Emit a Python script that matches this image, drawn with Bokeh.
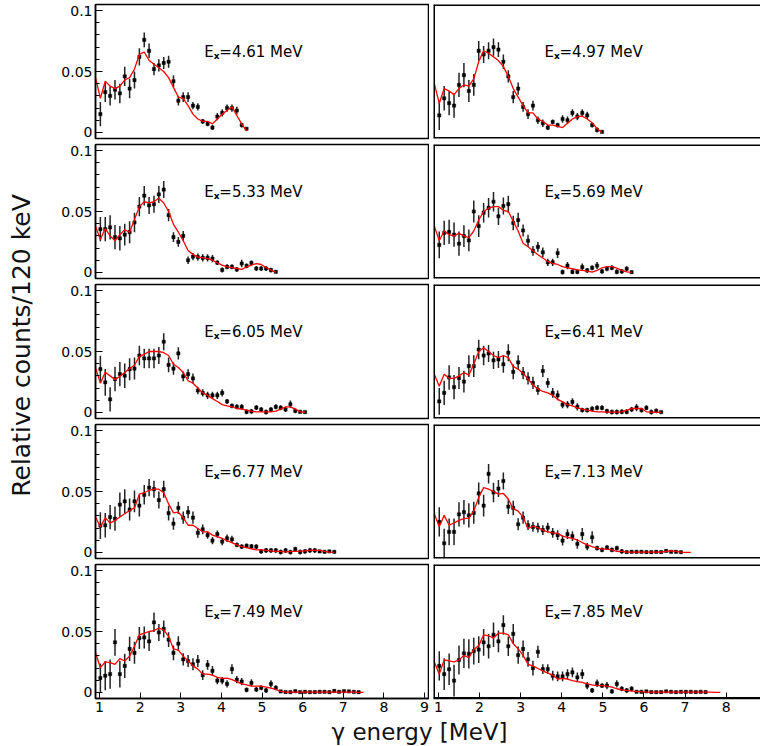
import numpy as np
from bokeh.plotting import figure
from bokeh.models import ColumnDataSource, Label, FixedTicker, CustomJSTickFormatter, Range1d, Span
from bokeh.layouts import row, column
from bokeh.embed import file_html
from bokeh.resources import INLINE

# gamma-energy bin centres (MeV), 120 keV bins
BIN_E = [0.90, 1.02, 1.14, 1.26, 1.38, 1.50, 1.62, 1.74, 1.86, 1.98, 2.10, 2.22, 2.34, 2.46, 2.58,
         2.70, 2.82, 2.94, 3.06, 3.18, 3.30, 3.42, 3.54, 3.66, 3.78, 3.90, 4.02, 4.14, 4.26, 4.38,
         4.50, 4.62, 4.74, 4.86, 4.98, 5.10, 5.22, 5.34, 5.46, 5.58, 5.70, 5.82, 5.94, 6.06, 6.18,
         6.30, 6.42, 6.54, 6.66, 6.78, 6.90, 7.02, 7.14, 7.26, 7.38, 7.50, 7.62, 7.74, 7.86]

EX_LABELS = ["4.61", "4.97", "5.33", "5.69", "6.05", "6.41", "6.77", "7.13", "7.49", "7.85"]

DATA_461 = [0.015, 0.033, 0.030, 0.035, 0.032, 0.046, 0.036, 0.043, 0.062, 0.076, 0.067, 0.052, 0.055, 0.057, 0.058,
            0.042, 0.026, 0.029, 0.029, 0.022, 0.021, 0.009, 0.007, 0.004, 0.013, 0.016, 0.020, 0.020, 0.018, 0.006, 0.003]
ERR_461 = [0.010, 0.008, 0.008, 0.008, 0.008, 0.008, 0.008, 0.007, 0.007, 0.006, 0.006, 0.005, 0.005, 0.005, 0.005,
           0.005, 0.004, 0.004, 0.004, 0.003, 0.003, 0.002, 0.002, 0.002, 0.003, 0.003, 0.003, 0.003, 0.003, 0.002, 0.001]
MODEL_461 = [0.045, 0.028, 0.042, 0.038, 0.036, 0.038, 0.043, 0.045, 0.052, 0.064, 0.066, 0.059, 0.056, 0.053, 0.050,
             0.045, 0.037, 0.029, 0.028, 0.022, 0.015, 0.011, 0.009, 0.009, 0.007, 0.011, 0.015, 0.018, 0.021, 0.014,
             0.007, 0.001]

DATA_497 = [0.014, 0.028, 0.024, 0.022, 0.039, 0.047, 0.034, 0.039, 0.067, 0.064, 0.067, 0.070, 0.068, 0.058, 0.046,
            0.029, 0.036, 0.021, 0.015, 0.022, 0.010, 0.0075, 0.004, 0.0086, 0.006, 0.011, 0.010, 0.016, 0.013, 0.016,
            0.014, 0.006, 0.002, 0.0005]
ERR_497 = [0.012, 0.010, 0.010, 0.010, 0.010, 0.010, 0.009, 0.009, 0.008, 0.007, 0.007, 0.007, 0.006, 0.006, 0.005,
           0.005, 0.005, 0.004, 0.004, 0.004, 0.003, 0.003, 0.002, 0.002, 0.002, 0.003, 0.003, 0.003, 0.003, 0.003,
           0.003, 0.002, 0.002, 0.001]
MODEL_497 = [0.040, 0.024, 0.036, 0.034, 0.031, 0.036, 0.039, 0.038, 0.044, 0.058, 0.067, 0.065, 0.062, 0.059, 0.054,
             0.046, 0.036, 0.029, 0.022, 0.016, 0.016, 0.011, 0.009, 0.006, 0.006, 0.005, 0.004, 0.0075, 0.011, 0.013,
             0.0134, 0.011, 0.008, 0.003, 0.000]

DATA_533 = [0.0355, 0.0355, 0.037, 0.029, 0.028, 0.031, 0.033, 0.041, 0.054, 0.063, 0.055, 0.056, 0.064, 0.068, 0.047,
            0.029, 0.025, 0.030, 0.010, 0.013, 0.0126, 0.012, 0.012, 0.0113, 0.008, 0.002, 0.0046, 0.0046, 0.0024,
            0.0073, 0.0054, 0.0078, 0.0032, 0.0032, 0.0032, 0.0019, 0.0005]
ERR_533 = [0.010, 0.010, 0.010, 0.010, 0.010, 0.009, 0.009, 0.008, 0.008, 0.008, 0.007, 0.007, 0.007, 0.007, 0.005,
           0.004, 0.004, 0.004, 0.003, 0.003, 0.003, 0.003, 0.003, 0.003, 0.002, 0.002, 0.002, 0.002, 0.002, 0.003,
           0.002, 0.002, 0.002, 0.002, 0.002, 0.002, 0.001]
MODEL_533 = [0.038, 0.027, 0.036, 0.030, 0.026, 0.031, 0.035, 0.033, 0.0435, 0.054, 0.058, 0.057, 0.058, 0.061, 0.057,
             0.050, 0.0395, 0.033, 0.026, 0.018, 0.0148, 0.0126, 0.012, 0.0113, 0.010, 0.0078, 0.006, 0.0046, 0.004,
             0.0032, 0.0024, 0.0046, 0.006, 0.0073, 0.0065, 0.004, 0.002, 0.000]

DATA_569 = [0.0226, 0.0325, 0.0333, 0.031, 0.0236, 0.0298, 0.0263, 0.050, 0.038, 0.049, 0.053, 0.058, 0.046, 0.0545,
            0.056, 0.0406, 0.043, 0.0344, 0.026, 0.0177, 0.021, 0.0164, 0.0083, 0.0083, 0.0159, 0.0003, 0.0056, 0.0005,
            0.0005, 0.0043, 0.0016, 0.0038, 0.0056, 0.0008, 0.003, 0.0038, 0.0005, 0.0008, 0.003, 0.0002]
ERR_569 = [0.011, 0.010, 0.010, 0.010, 0.010, 0.009, 0.009, 0.009, 0.009, 0.008, 0.008, 0.008, 0.007, 0.007, 0.007,
           0.006, 0.006, 0.005, 0.005, 0.004, 0.004, 0.004, 0.003, 0.003, 0.004, 0.002, 0.003, 0.002, 0.002, 0.003,
           0.002, 0.002, 0.003, 0.002, 0.002, 0.002, 0.002, 0.002, 0.002, 0.001]
MODEL_569 = [0.038, 0.026, 0.034, 0.031, 0.030, 0.032, 0.030, 0.0285, 0.034, 0.043, 0.050, 0.0527, 0.054, 0.054, 0.051,
             0.050, 0.042, 0.034, 0.024, 0.021, 0.0177, 0.0145, 0.0118, 0.009, 0.0075, 0.0065, 0.0048, 0.0038, 0.003,
             0.0021, 0.0016, 0.0011, 0.0003, 0.0016, 0.0038, 0.0048, 0.0048, 0.0035, 0.0016, 0.0005, 0.000]

DATA_605 = [0.0355, 0.0247, 0.0107, 0.0274, 0.0314, 0.0301, 0.0355, 0.036, 0.0467, 0.0443, 0.0443, 0.0443, 0.0467,
            0.058, 0.039, 0.036, 0.0484, 0.0296, 0.0314, 0.0279, 0.018, 0.016, 0.014, 0.014, 0.014, 0.016, 0.009,
            0.0054, 0.0046, 0.0046, 0.0005, 0.0008, 0.004, 0.0024, 0.0003, 0.0024, 0.0046, 0.0038, 0.0024, 0.0067,
            0.0013, 0.0005, 0.0003]
ERR_605 = [0.011, 0.011, 0.010, 0.010, 0.010, 0.010, 0.009, 0.009, 0.008, 0.008, 0.008, 0.008, 0.007, 0.007, 0.006,
           0.005, 0.005, 0.004, 0.004, 0.004, 0.003, 0.003, 0.003, 0.003, 0.003, 0.003, 0.002, 0.002, 0.002, 0.002,
           0.002, 0.002, 0.002, 0.002, 0.002, 0.002, 0.002, 0.002, 0.002, 0.003, 0.002, 0.001, 0.001]
MODEL_605 = [0.0368, 0.024, 0.033, 0.030, 0.027, 0.0296, 0.0328, 0.036, 0.0387, 0.046, 0.0476, 0.050, 0.050, 0.050,
             0.049, 0.0467, 0.0395, 0.0368, 0.0328, 0.026, 0.024, 0.020, 0.016, 0.014, 0.0113, 0.009, 0.0064, 0.0054,
             0.0046, 0.0032, 0.0027, 0.0019, 0.001, 0.0005, 0.0005, 0.0005, 0.0005, 0.001, 0.0027, 0.0046, 0.0046,
             0.0027, 0.0005, 0.000]

DATA_641 = [0.0091, 0.016, 0.0287, 0.0207, 0.0282, 0.0253, 0.038, 0.038, 0.0516, 0.0467, 0.0484, 0.0427, 0.0435,
            0.0395, 0.049, 0.0333, 0.041, 0.0322, 0.028, 0.0242, 0.0185, 0.034, 0.0242, 0.016, 0.014, 0.0064, 0.0064,
            0.0086, 0.0046, 0.0019, 0.0019, 0.003, 0.0038, 0.0038, 0.001, 0.0003, 0.0003, 0.0005, 0.0005, 0.0024,
            0.004, 0.0019, 0.0038, 0.0003, 0.0013, 0.0002]
ERR_641 = [0.011, 0.010, 0.010, 0.010, 0.009, 0.009, 0.009, 0.009, 0.008, 0.008, 0.007, 0.007, 0.007, 0.007, 0.007,
           0.006, 0.006, 0.005, 0.005, 0.005, 0.004, 0.005, 0.004, 0.004, 0.004, 0.003, 0.003, 0.003, 0.003, 0.002,
           0.002, 0.002, 0.002, 0.002, 0.002, 0.002, 0.002, 0.002, 0.002, 0.002, 0.003, 0.002, 0.002, 0.002, 0.002,
           0.001]
MODEL_641 = [0.0314, 0.0215, 0.0314, 0.028, 0.028, 0.030, 0.0328, 0.0306, 0.0395, 0.050, 0.053, 0.050, 0.0467, 0.045,
             0.0467, 0.045, 0.0376, 0.0355, 0.0322, 0.0274, 0.0226, 0.0193, 0.0172, 0.016, 0.014, 0.0107, 0.0086,
             0.0064, 0.0054, 0.0038, 0.0027, 0.0019, 0.001, 0.0005, 0.0005, 0.0003, 0.0002, 0.0002, 0.0005, 0.0019,
             0.0032, 0.0032, 0.0032, 0.0005, 0.0003, 0.0001, 0.000]

DATA_677 = [0.022, 0.0223, 0.029, 0.0277, 0.0392, 0.0419, 0.0352, 0.0419, 0.0384, 0.0473, 0.0532, 0.0519, 0.043,
            0.0519, 0.0322, 0.0236, 0.0365, 0.0285, 0.033, 0.0285, 0.0161, 0.019, 0.0142, 0.0097, 0.015, 0.0089,
            0.0116, 0.0107, 0.0062, 0.0048, 0.0054, 0.005, 0.0048, 0.0008, 0.0016, 0.0016, 0.0016, 0.0003, 0.0016,
            0.0002, 0.0027, 0.0003, 0.0008, 0.0016, 0.0016, 0.0008, 0.0005, 0.0008, 0.0005]
ERR_677 = [0.011, 0.010, 0.010, 0.010, 0.010, 0.010, 0.009, 0.009, 0.009, 0.008, 0.007, 0.007, 0.007, 0.007, 0.006,
           0.005, 0.005, 0.005, 0.005, 0.005, 0.004, 0.004, 0.003, 0.003, 0.003, 0.003, 0.003, 0.003, 0.002, 0.002,
           0.002, 0.002, 0.002, 0.002, 0.002, 0.002, 0.002, 0.002, 0.002, 0.002, 0.002, 0.002, 0.002, 0.002, 0.002,
           0.001, 0.001, 0.001, 0.001]
MODEL_677 = [0.029, 0.021, 0.0285, 0.024, 0.0263, 0.029, 0.0317, 0.0344, 0.0365, 0.0478, 0.049, 0.051, 0.0519, 0.0519,
             0.049, 0.0398, 0.0325, 0.033, 0.0285, 0.0223, 0.0223, 0.0196, 0.0169, 0.0169, 0.0142, 0.0129, 0.0116,
             0.0097, 0.0081, 0.0062, 0.0048, 0.004, 0.003, 0.0021, 0.0021, 0.0016, 0.0013, 0.0008, 0.0008, 0.0003,
             0.0008, 0.0008, 0.0010, 0.0013, 0.0016, 0.0016, 0.0016, 0.0008, 0.0003, 0.000]

DATA_713 = [0.025, 0.0075, 0.0169, 0.0169, 0.0312, 0.033, 0.0304, 0.0325, 0.0484, 0.0384, 0.0645, 0.0492, 0.0524,
            0.0586, 0.0376, 0.0365, 0.0231, 0.0285, 0.0223, 0.021, 0.0204, 0.0183, 0.0204, 0.0161, 0.0142, 0.0097,
            0.015, 0.0134, 0.007, 0.015, 0.0048, 0.0124, 0.0035, 0.0021, 0.004, 0.0021, 0.0035, 0.0008, 0.0003,
            0.0005, 0.0005, 0.0005, 0.0003, 0.0002, 0.0005, 0.0003, 0.0012, 0.0005, 0.0005, 0.0002]
ERR_713 = [0.012, 0.012, 0.011, 0.011, 0.010, 0.010, 0.010, 0.009, 0.009, 0.009, 0.008, 0.008, 0.007, 0.007, 0.006,
           0.006, 0.005, 0.005, 0.004, 0.004, 0.004, 0.004, 0.004, 0.004, 0.004, 0.004, 0.004, 0.004, 0.004, 0.005,
           0.003, 0.005, 0.002, 0.002, 0.002, 0.002, 0.002, 0.002, 0.001, 0.001, 0.001, 0.001, 0.001, 0.001, 0.001,
           0.001, 0.001, 0.001, 0.001, 0.001]
MODEL_713 = [0.0317, 0.021, 0.0304, 0.0223, 0.0242, 0.0263, 0.0277, 0.0282, 0.0339, 0.0451, 0.0532, 0.0519, 0.050,
             0.0478, 0.0484, 0.0438, 0.0357, 0.0339, 0.029, 0.0196, 0.0215, 0.0204, 0.0183, 0.0169, 0.0161, 0.0156,
             0.0134, 0.0124, 0.0116, 0.0102, 0.0081, 0.0062, 0.0048, 0.0035, 0.0027, 0.0027, 0.0021, 0.0008, 0.0008,
             0.0003, 0.0003, 0.0002, 0.0002, 0.0002, 0.0002, 0.0002, 0.0003, 0.0008, 0.0013, 0.0008, 0.0003, 0.0001,
             0.000]

DATA_749 = [0.0118, 0.0137, 0.015, 0.0411, 0.015, 0.0218, 0.0357, 0.0325, 0.0446, 0.0451, 0.0419, 0.0575, 0.0492,
            0.0521, 0.0433, 0.0325, 0.040, 0.0271, 0.0258, 0.0231, 0.0258, 0.0142, 0.0226, 0.0177, 0.0097, 0.0097,
            0.007, 0.0191, 0.0105, 0.0089, 0.0021, 0.0078, 0.0024, 0.0038, 0.0016, 0.007, 0.0038, 0.0008, 0.0003,
            0.0002, 0.0010, 0.0003, 0.0005, 0.0002, 0.0003, 0.0005, 0.0005, 0.0002, 0.0012, 0.0005, 0.0010, 0.0008,
            0.0005, 0.0002]
ERR_749 = [0.012, 0.012, 0.012, 0.011, 0.011, 0.010, 0.010, 0.009, 0.009, 0.009, 0.008, 0.008, 0.007, 0.007, 0.006,
           0.006, 0.006, 0.005, 0.005, 0.005, 0.005, 0.004, 0.004, 0.004, 0.003, 0.003, 0.003, 0.004, 0.003, 0.003,
           0.002, 0.003, 0.002, 0.002, 0.002, 0.003, 0.002, 0.001, 0.001, 0.001, 0.001, 0.001, 0.001, 0.001, 0.001,
           0.001, 0.001, 0.001, 0.001, 0.001, 0.001, 0.001, 0.001, 0.001]
MODEL_749 = [0.0325, 0.0204, 0.025, 0.0245, 0.0231, 0.0277, 0.0258, 0.0298, 0.0379, 0.0473, 0.0486, 0.050, 0.0508,
             0.0527, 0.0513, 0.046, 0.0357, 0.0347, 0.0298, 0.0258, 0.0218, 0.0191, 0.015, 0.015, 0.0142, 0.0124,
             0.0116, 0.0118, 0.0105, 0.0089, 0.007, 0.0062, 0.0051, 0.0051, 0.0051, 0.0043, 0.0035, 0.0024, 0.0008,
             0.0003, 0.0003, 0.0003, 0.0003, 0.0003, 0.0003, 0.0002, 0.0002, 0.0003, 0.0003, 0.0003, 0.0003, 0.0003,
             0.0002, 0.0002, 0.0001, 0.000]

DATA_785 = [0.0218, 0.015, 0.019, 0.0097, 0.0266, 0.032, 0.0317, 0.0339, 0.0352, 0.0411, 0.0379, 0.0473, 0.0419,
            0.0553, 0.0379, 0.0481, 0.0306, 0.0357, 0.0271, 0.0199, 0.0333, 0.0191, 0.0191, 0.0137, 0.0132, 0.0132,
            0.015, 0.0164, 0.0124, 0.015, 0.0056, 0.0016, 0.0075, 0.0056, 0.0056, 0.0008, 0.007, 0.003, 0.0016, 0.003,
            0.0005, 0.0005, 0.0008, 0.0003, 0.0002, 0.0003, 0.0008, 0.0005, 0.0002, 0.0005, 0.0005, 0.0005, 0.0003,
            0.0005, 0.0003]
ERR_785 = [0.012, 0.013, 0.013, 0.013, 0.012, 0.012, 0.012, 0.011, 0.011, 0.011, 0.010, 0.010, 0.009, 0.008, 0.008,
           0.008, 0.007, 0.007, 0.006, 0.006, 0.005, 0.004, 0.004, 0.004, 0.004, 0.004, 0.004, 0.004, 0.004, 0.004,
           0.003, 0.002, 0.003, 0.002, 0.003, 0.002, 0.003, 0.002, 0.002, 0.002, 0.001, 0.001, 0.001, 0.001, 0.001,
           0.001, 0.001, 0.001, 0.001, 0.001, 0.001, 0.001, 0.001, 0.001, 0.001]
MODEL_785 = [0.025, 0.015, 0.0266, 0.0258, 0.025, 0.0266, 0.0304, 0.0285, 0.0352, 0.0384, 0.0473, 0.0465, 0.0446,
             0.0486, 0.0486, 0.0473, 0.040, 0.0357, 0.0304, 0.0231, 0.0218, 0.0196, 0.0177, 0.0159, 0.0142, 0.011,
             0.0116, 0.011, 0.0097, 0.0089, 0.0083, 0.007, 0.0062, 0.0056, 0.0056, 0.0051, 0.0043, 0.003, 0.0021,
             0.0016, 0.0011, 0.0008, 0.0005, 0.0003, 0.0003, 0.0003, 0.0003, 0.0003, 0.0003, 0.0003, 0.0003, 0.0003,
             0.0003, 0.0003, 0.0003, 0.0002, 0.0002, 0.0001, 0.000]

PANEL_DATA = [DATA_461, DATA_497, DATA_533, DATA_569, DATA_605, DATA_641, DATA_677, DATA_713, DATA_749, DATA_785]
PANEL_ERR = [ERR_461, ERR_497, ERR_533, ERR_569, ERR_605, ERR_641, ERR_677, ERR_713, ERR_749, ERR_785]
PANEL_MODEL = [MODEL_461, MODEL_497, MODEL_533, MODEL_569, MODEL_605, MODEL_641, MODEL_677, MODEL_713, MODEL_749, MODEL_785]

Y_MAJOR = [0, 0.05, 0.1]
Y_MINOR = [0.01, 0.02, 0.03, 0.04, 0.06, 0.07, 0.08, 0.09]
X_TICKS = [1, 2, 3, 4, 5, 6, 7, 8, 9]

FONT = "DejaVu Sans"
Y0, Y1 = -0.005, 0.105
ROW_H = [141, 140, 140, 140, 159]
ROW_TOP = [4, 3, 3, 3, 3]
ROW_BOT = [3, 3, 3, 3, 22]
GRID_H = sum(ROW_H)
TITLE_H = 746 - GRID_H


def make_panel(k):
    r, c = divmod(k, 2)
    left = c == 0
    bottom = r == 4
    if left:
        w, xr, mbl, mbr = 381, (0.90, 9.10), 47, 1
    else:
        w, xr, mbl, mbr = 331, (0.88, 8.836), 4, 0
    p = figure(width=w, height=ROW_H[r], x_range=Range1d(*xr), y_range=Range1d(Y0, Y1),
               output_backend="svg", toolbar_location=None,
               x_axis_location="below" if bottom else None,
               y_axis_location="left" if left else None,
               min_border_left=mbl, min_border_right=mbr,
               min_border_top=ROW_TOP[r], min_border_bottom=ROW_BOT[r])
    p.grid.visible = False
    p.background_fill_color = "white"
    p.border_fill_color = "white"
    if left:
        p.outline_line_color = "black"
        p.outline_line_width = 1.5
    else:
        # right-hand panels run off the page edge: no right border
        p.outline_line_color = None
        p.add_layout(Span(location=xr[0], dimension="height", line_color="black", line_width=3))
        p.add_layout(Span(location=Y1, dimension="width", line_color="black", line_width=3))
        p.add_layout(Span(location=Y0, dimension="width", line_color="black", line_width=3))
    if left:
        ax = p.yaxis[0]
        ax.ticker = FixedTicker(ticks=Y_MAJOR, minor_ticks=Y_MINOR)
        ax.formatter = CustomJSTickFormatter(code="return tick == 0 ? '0' : String(+tick.toFixed(2));")
        ax.major_tick_in = 7
        ax.major_tick_out = 0
        ax.minor_tick_in = 4
        ax.minor_tick_out = 0
        ax.major_label_standoff = 3
        ax.major_label_text_font = FONT
        ax.major_label_text_font_size = "14px"
        ax.major_label_text_color = "black"
        ax.axis_line_color = "black"
        ax.axis_line_width = 1.5
    if bottom:
        ax = p.xaxis[0]
        ax.ticker = FixedTicker(ticks=X_TICKS, minor_ticks=[])
        ax.major_tick_in = 6
        ax.major_tick_out = 0
        ax.minor_tick_in = 0
        ax.minor_tick_out = 0
        ax.major_label_standoff = 3
        ax.major_label_text_font = FONT
        ax.major_label_text_font_size = "14px"
        ax.major_label_text_color = "black"
        ax.axis_line_color = "black"
        ax.axis_line_width = 1.5

    vals = np.array(PANEL_DATA[k], dtype=float)
    errs = np.array(PANEL_ERR[k], dtype=float)
    n = min(len(vals), len(errs))
    xs = np.array(BIN_E[1:1 + n])
    src = ColumnDataSource(dict(x=xs, y=vals[:n], lo=vals[:n] - errs[:n], hi=vals[:n] + errs[:n]))
    p.segment(x0="x", y0="lo", x1="x", y1="hi", source=src, line_color="#222222", line_width=1.5)
    p.scatter(x="x", y="y", source=src, marker="square", size=3.2, fill_color="black", line_color="black",
              line_width=0.5)

    model = PANEL_MODEL[k]
    m = len(model)
    msrc = ColumnDataSource(dict(x=BIN_E[:m], y=model))
    p.line(x="x", y="y", source=msrc, line_color="#ff0000", line_width=1.3)

    lx, ly = 3.58, 0.066
    p.add_layout(Label(x=lx, y=ly, text="E", text_font=FONT, text_font_size="15px",
                       text_baseline="middle", text_align="left", text_color="black"))
    p.add_layout(Label(x=lx, y=ly, x_offset=9.5, y_offset=-4, text="x", text_font=FONT,
                       text_font_size="9px", text_font_style="bold",
                       text_baseline="middle", text_align="left", text_color="black"))
    p.add_layout(Label(x=lx, y=ly, x_offset=15, text="=" + EX_LABELS[k] + " MeV", text_font=FONT,
                       text_font_size="15px", text_baseline="middle", text_align="left", text_color="black"))
    return p


panels = [make_panel(k) for k in range(10)]
grid = column(*[row(panels[2 * r], panels[2 * r + 1]) for r in range(5)])

yt = figure(width=48, height=GRID_H, x_range=Range1d(0, 48), y_range=Range1d(0, GRID_H),
            output_backend="svg", toolbar_location=None, x_axis_location=None, y_axis_location=None,
            min_border=0, outline_line_color=None)
yt.grid.visible = False
yt.add_layout(Label(x=21, y=GRID_H - 345, text="Relative counts/120 keV", angle=np.pi / 2,
                    text_align="center", text_baseline="middle", text_font=FONT,
                    text_font_size="25px", text_color="#111111"))

xt = figure(width=760, height=TITLE_H, x_range=Range1d(0, 760), y_range=Range1d(0, TITLE_H),
            output_backend="svg", toolbar_location=None, x_axis_location=None, y_axis_location=None,
            min_border=0, outline_line_color=None)
xt.grid.visible = False
xt.add_layout(Label(x=419, y=TITLE_H - 11, text="\u03b3 energy [MeV]", text_align="center",
                    text_baseline="middle", text_font=FONT, text_font_size="23px", text_color="#111111"))

layout = column(row(yt, grid), xt)

open("out.html", "w").write(file_html(layout, INLINE))
